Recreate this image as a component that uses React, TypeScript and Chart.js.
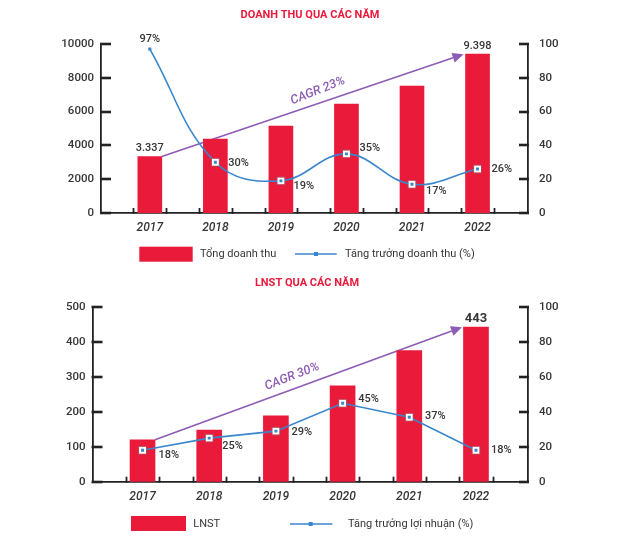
import React, { useEffect, useRef } from "react";
import { Chart, registerables } from "chart.js";

Chart.register(...registerables);

// ---------------- data ----------------
const years = ["2017", "2018", "2019", "2020", "2021", "2022"];

const revenueTitle = "DOANH THU QUA CÁC NĂM";
const revenue = [3337, 4370, 5140, 6440, 7510, 9398];
const revenueGrowth = [97, 30, 19, 35, 17, 26];
const revenueGrowthLabels = ["97%", "30%", "19%", "35%", "17%", "26%"];
const revenueBarLabels = ["3.337", "", "", "", "", "9.398"];
const revenueTicks = [0, 2000, 4000, 6000, 8000, 10000];
const revenueCagr = "CAGR 23%";
const revenueLegend = ["Tổng doanh thu", "Tăng trưởng doanh thu (%)"];

const profitTitle = "LNST QUA CÁC NĂM";
const profit = [120, 148, 189, 275, 376, 443];
const profitGrowth = [18, 25, 29, 45, 37, 18];
const profitGrowthLabels = ["18%", "25%", "29%", "45%", "37%", "18%"];
const profitBarLabels = ["", "", "", "", "", "443"];
const profitTicks = [0, 100, 200, 300, 400, 500];
const profitCagr = "CAGR 30%";
const profitLegend = ["LNST", "Tăng trưởng lợi nhuận (%)"];

const growthTicks = [0, 20, 40, 60, 80, 100];

// ---------------- styles ----------------
const RED = "#ea1a3b";
const BLUE = "#3a86cd";
const PURPLE = "#8c5cb6";
const TEXT = "#363636";
const AXIS = "#222222";
const FONT = 'Roboto, "Open Sans", sans-serif';
const TITLE_FONT = '"Liberation Sans Narrow", Roboto, sans-serif';

type Spec = {
  width: number;
  height: number;
  top: number;
  area: { left: number; right: number; top: number; bottom: number };
  xMin: number;
  xMax: number;
  barW: number;
  tension: number;
  firstPlain: boolean;
  title: string;
  titleX: number;
  titleY: number;
  bars: number[];
  growth: number[];
  growthLabels: string[];
  barLabels: string[];
  barLabelFont: string;
  ticks: number[];
  cagr: string;
  cagrFrac: number;
  cagrAdj: number;
  labelOffsets: number[][];
  legend: string[];
  legendRect: number[];
  legendText1X: number;
  legendLine: number[];
  legendText2X: number;
  legendY: number;
};

const revenueSpec: Spec = {
  width: 627,
  height: 270,
  top: 0,
  area: { left: 101, right: 528, top: 44, bottom: 213 },
  xMin: -0.745,
  xMax: 5.77,
  barW: 24,
  tension: 0.4,
  firstPlain: true,
  title: revenueTitle,
  titleX: 310,
  titleY: 15,
  bars: revenue,
  growth: revenueGrowth,
  growthLabels: revenueGrowthLabels,
  barLabels: revenueBarLabels,
  barLabelFont: `500 11px ${FONT}`,
  ticks: revenueTicks,
  cagr: revenueCagr,
  cagrFrac: 0.53,
  cagrAdj: -0.05,
  labelOffsets: [
    [0, -10],
    [13, 1],
    [12.6, 5],
    [13, -5.4],
    [14, 7],
    [14, 0],
  ],
  legend: revenueLegend,
  legendRect: [139.3, 246.7, 53.4, 15],
  legendText1X: 200,
  legendLine: [295, 336.7, 316],
  legendText2X: 345,
  legendY: 254,
};

const profitSpec: Spec = {
  width: 627,
  height: 271,
  top: 270,
  area: { left: 92.5, right: 528, top: 37.3, bottom: 211.7 },
  xMin: -0.75,
  xMax: 5.78,
  barW: 25,
  tension: 0,
  firstPlain: false,
  title: profitTitle,
  titleX: 307,
  titleY: 13.3,
  bars: profit,
  growth: profitGrowth,
  growthLabels: profitGrowthLabels,
  barLabels: profitBarLabels,
  barLabelFont: `bold 13px ${FONT}`,
  ticks: profitTicks,
  cagr: profitCagr,
  cagrFrac: 0.46,
  cagrAdj: -0.02,
  labelOffsets: [
    [16, 5],
    [13, 7.7],
    [15.6, 1],
    [15.7, -4.3],
    [15.7, -1.3],
    [15, 0],
  ],
  legend: profitLegend,
  legendRect: [131, 246, 55, 15],
  legendText1X: 193.3,
  legendLine: [290, 332.3, 310.7],
  legendText2X: 348,
  legendY: 254,
};

function makePlugin(s: Spec) {
  return {
    id: "custom",
    beforeDatasetsDraw(chart: any) {
      const { ctx } = chart;
      const x = chart.scales.x;
      const y = chart.scales.y;
      const n = s.bars.length;
      const x0 = x.getPixelForValue(0) + s.barW / 2;
      const y0 = y.getPixelForValue(s.bars[0]);
      const x1 = x.getPixelForValue(n - 1) - 14;
      const y1 = y.getPixelForValue(s.bars[n - 1]);
      const ang = Math.atan2(y1 - y0, x1 - x0);
      const head = 11;
      const hw = 5;
      const c = Math.cos(ang);
      const sn = Math.sin(ang);
      ctx.save();
      ctx.strokeStyle = PURPLE;
      ctx.lineWidth = 1.6;
      ctx.beginPath();
      ctx.moveTo(x0, y0);
      ctx.lineTo(x1 - head * c, y1 - head * sn);
      ctx.stroke();
      const bx = x1 - head * c;
      const by = y1 - head * sn;
      ctx.fillStyle = PURPLE;
      ctx.beginPath();
      ctx.moveTo(x1, y1);
      ctx.lineTo(bx + hw * sn, by - hw * c);
      ctx.lineTo(bx - hw * sn, by + hw * c);
      ctx.closePath();
      ctx.fill();
      const tx = x0 + (x1 - x0) * s.cagrFrac;
      const ty = y0 + (y1 - y0) * s.cagrFrac;
      const off = 12;
      ctx.translate(tx + off * sn, ty - off * c);
      ctx.rotate(ang + s.cagrAdj);
      ctx.font = `italic 500 12.5px ${FONT}`;
      ctx.textAlign = "center";
      ctx.textBaseline = "middle";
      ctx.fillText(s.cagr, 0, 0);
      ctx.restore();
    },
    afterDatasetsDraw(chart: any) {
      const { ctx } = chart;
      const x = chart.scales.x;
      const y = chart.scales.y;
      const y1 = chart.scales.y1;
      ctx.save();
      // marker outlines
      ctx.strokeStyle = "rgba(120,120,120,0.55)";
      ctx.lineWidth = 0.7;
      s.growth.forEach((v, i) => {
        if (i === 0 && s.firstPlain) return;
        const px = x.getPixelForValue(i);
        const py = y1.getPixelForValue(v);
        ctx.strokeRect(px - 4, py - 4, 8, 8);
      });
      // growth labels
      ctx.fillStyle = TEXT;
      ctx.font = `500 11px ${FONT}`;
      ctx.textBaseline = "middle";
      s.growth.forEach((v, i) => {
        const px = x.getPixelForValue(i);
        const py = y1.getPixelForValue(v);
        const [dx, dy] = s.labelOffsets[i];
        ctx.textAlign = dx === 0 ? "center" : "left";
        ctx.fillText(s.growthLabels[i], px + dx, py + dy);
      });
      // bar labels
      ctx.font = s.barLabelFont;
      ctx.textAlign = "center";
      ctx.textBaseline = "middle";
      s.bars.forEach((v, i) => {
        if (!s.barLabels[i]) return;
        const px = x.getPixelForValue(i);
        const py = y.getPixelForValue(v);
        ctx.fillText(s.barLabels[i], px, py - 8);
      });
      ctx.restore();
    },
    afterDraw(chart: any) {
      const { ctx, chartArea } = chart;
      const x = chart.scales.x;
      const y = chart.scales.y;
      ctx.save();
      ctx.strokeStyle = AXIS;
      ctx.lineWidth = 2.6;
      // y tick marks (inward)
      s.ticks.forEach((v) => {
        const py = Math.round(y.getPixelForValue(v));
        ctx.beginPath();
        ctx.moveTo(chartArea.left - 1, py);
        ctx.lineTo(chartArea.left + 10, py);
        ctx.stroke();
        ctx.beginPath();
        ctx.moveTo(chartArea.right - 9, py);
        ctx.lineTo(chartArea.right + 1, py);
        ctx.stroke();
      });
      // x tick marks at bar sides
      ctx.lineWidth = 1.8;
      s.bars.forEach((_, i) => {
        [-0.25, 0.25].forEach((d) => {
          const px = Math.round(x.getPixelForValue(i + d)) + 0.5;
          ctx.beginPath();
          ctx.moveTo(px, chartArea.bottom + 1);
          ctx.lineTo(px, chartArea.bottom - 5);
          ctx.stroke();
        });
      });
      // title
      ctx.fillStyle = RED;
      ctx.font = `bold 11px ${TITLE_FONT}`;
      ctx.textAlign = "center";
      ctx.textBaseline = "middle";
      ctx.fillText(s.title, s.titleX, s.titleY);
      // legend
      const [rx, ry, rw, rh] = s.legendRect;
      ctx.fillStyle = RED;
      ctx.fillRect(rx, ry, rw, rh);
      ctx.fillStyle = TEXT;
      ctx.font = `11px ${FONT}`;
      ctx.textAlign = "left";
      ctx.fillText(s.legend[0], s.legendText1X, s.legendY);
      const [lx0, lx1, lm] = s.legendLine;
      ctx.strokeStyle = BLUE;
      ctx.lineWidth = 1.5;
      ctx.beginPath();
      ctx.moveTo(lx0, s.legendY);
      ctx.lineTo(lx1, s.legendY);
      ctx.stroke();
      ctx.fillStyle = BLUE;
      ctx.fillRect(lm - 2, s.legendY - 2, 4, 4);
      ctx.fillStyle = TEXT;
      ctx.fillText(s.legend[1], s.legendText2X, s.legendY);
      ctx.restore();
    },
  };
}

function ChartBox({ spec }: { spec: Spec }) {
  const ref = useRef<HTMLCanvasElement | null>(null);
  useEffect(() => {
    const s = spec;
    const canvas = ref.current;
    if (!canvas) return;
    const tickFont = { family: FONT, size: 11.5, weight: "500" as any };
    const chart = new Chart(canvas, {
      type: "bar",
      data: {
        datasets: [
          {
            type: "line",
            data: s.growth.map((v, i) => ({ x: i, y: v })),
            yAxisID: "y1",
            xAxisID: "x",
            borderColor: BLUE,
            borderWidth: 1.6,
            tension: s.tension,
            pointStyle: "rect",
            pointRadius: s.growth.map((_, i) => (i === 0 && s.firstPlain ? 2.2 : 3.5)),
            pointBackgroundColor: BLUE,
            pointBorderColor: "#ffffff",
            pointBorderWidth: s.growth.map((_, i) => (i === 0 && s.firstPlain ? 0 : 2)),
            order: 1,
          } as any,
          {
            type: "bar",
            data: s.bars.map((v, i) => ({ x: i, y: v })),
            yAxisID: "y",
            xAxisID: "x",
            backgroundColor: RED,
            barThickness: s.barW,
            order: 2,
          } as any,
        ],
      },
      options: {
        responsive: false,
        devicePixelRatio: 1,
        animation: false,
        events: [],
        layout: { padding: { top: s.area.top, left: 0, right: 0, bottom: 0 } },
        plugins: {
          legend: { display: false },
          tooltip: { enabled: false },
          title: { display: false },
        },
        scales: {
          x: {
            type: "linear",
            offset: false,
            min: s.xMin,
            max: s.xMax,
            grid: { display: false, drawTicks: false, offset: false },
            border: { display: true, color: AXIS, width: 1.8 },
            ticks: {
              stepSize: 1,
              includeBounds: false,
              autoSkip: false,
              maxRotation: 0,
              padding: 8,
              color: TEXT,
              font: { family: FONT, size: 12, style: "italic", weight: "500" as any },
              callback: (v: any) => {
                const i = Number(v);
                return Number.isInteger(i) && years[i] ? years[i] : "";
              },
            },
            afterFit: (sc: any) => {
              sc.height = s.height - s.area.bottom;
            },
          } as any,
          y: {
            type: "linear",
            position: "left",
            min: s.ticks[0],
            max: s.ticks[s.ticks.length - 1],
            grid: { display: false, drawTicks: false },
            border: { display: true, color: AXIS, width: 1.8 },
            ticks: {
              stepSize: s.ticks[1] - s.ticks[0],
              padding: 7,
              color: TEXT,
              font: tickFont,
              callback: (v: any) => String(v),
            },
            afterFit: (sc: any) => {
              sc.width = s.area.left;
            },
          } as any,
          y1: {
            type: "linear",
            position: "right",
            min: growthTicks[0],
            max: growthTicks[growthTicks.length - 1],
            grid: { display: false, drawTicks: false },
            border: { display: true, color: AXIS, width: 1.8 },
            ticks: {
              stepSize: growthTicks[1] - growthTicks[0],
              padding: 11,
              color: TEXT,
              font: tickFont,
              callback: (v: any) => String(v),
            },
            afterFit: (sc: any) => {
              sc.width = s.width - s.area.right;
            },
          } as any,
        },
      },
      plugins: [makePlugin(s)],
    });
    return () => chart.destroy();
  }, [spec]);
  return (
    <canvas
      ref={ref}
      width={spec.width}
      height={spec.height}
      style={{
        position: "absolute",
        left: 0,
        top: spec.top,
        width: spec.width,
        height: spec.height,
      }}
    />
  );
}

export default function App() {
  return (
    <div
      style={{
        position: "absolute",
        left: 0,
        top: 0,
        width: 627,
        height: 541,
        background: "#ffffff",
        overflow: "hidden",
      }}
    >
      <ChartBox spec={revenueSpec} />
      <ChartBox spec={profitSpec} />
    </div>
  );
}
